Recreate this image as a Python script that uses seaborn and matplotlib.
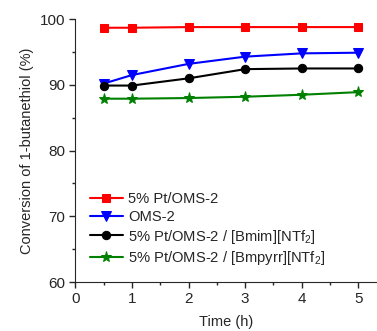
import matplotlib
matplotlib.use('Agg')
import matplotlib.pyplot as plt
from matplotlib.ticker import MultipleLocator
import seaborn as sns
import pandas as pd

time_h = [0.5, 1, 2, 3, 4, 5]
pt_oms2 = [98.7, 98.7, 98.8, 98.8, 98.8, 98.8]
oms2 = [90.2, 91.5, 93.2, 94.3, 94.8, 94.9]
pt_bmim = [89.9, 89.9, 91.0, 92.4, 92.5, 92.5]
pt_bmpyrr = [87.9, 87.9, 88.0, 88.2, 88.5, 88.9]

labels = ['5% Pt/OMS-2', 'OMS-2',
          '5% Pt/OMS-2 / [Bmim][NTf$_2$]',
          '5% Pt/OMS-2 / [Bmpyrr][NTf$_2$]']
series = [pt_oms2, oms2, pt_bmim, pt_bmpyrr]
colors = ['#ff0000', '#0000ff', '#000000', '#008000']
markers = ['s', 'v', 'o', '*']
msizes = [5.5, 6.5, 6, 8]

sns.set_style('ticks')
plt.rcParams['font.family'] = ['Liberation Sans', 'DejaVu Sans']
plt.rcParams['mathtext.fontset'] = 'custom'
plt.rcParams['mathtext.rm'] = 'Liberation Sans'
plt.rcParams['mathtext.it'] = 'Liberation Sans:italic'

fig = plt.figure(figsize=(3.77, 3.31), dpi=100)
ax = fig.add_axes([0.2, 0.148, 0.8, 0.794])

for vals, lab, c, m, ms in zip(series, labels, colors, markers, msizes):
    df = pd.DataFrame({'t': time_h, 'v': vals})
    sns.lineplot(data=df, x='t', y='v', ax=ax, color=c, marker=m,
                 markersize=ms, markeredgecolor=c, linewidth=1.5, label=lab)

ax.set_xlim(0, 5.33)
ax.set_ylim(60, 100)
ax.xaxis.set_major_locator(MultipleLocator(1))
ax.xaxis.set_minor_locator(MultipleLocator(0.5))
ax.yaxis.set_major_locator(MultipleLocator(10))
ax.yaxis.set_minor_locator(MultipleLocator(5))
ax.tick_params(which='both', direction='out', labelsize=11, width=1)
ax.tick_params(which='major', length=4)
ax.tick_params(which='minor', length=2.5)
sns.despine(ax=ax)
ax.set_xlabel('Time (h)', fontsize=10.5, labelpad=6)
ax.set_ylabel('Conversion of 1-butanethiol (%)', fontsize=10.5)
ax.legend(loc='lower left', bbox_to_anchor=(0.0, 0.0), frameon=False,
          fontsize=10.6, handlelength=2.2, handletextpad=0.4,
          labelspacing=0.25, borderaxespad=0.6)

fig.savefig('out.png', dpi=100)
